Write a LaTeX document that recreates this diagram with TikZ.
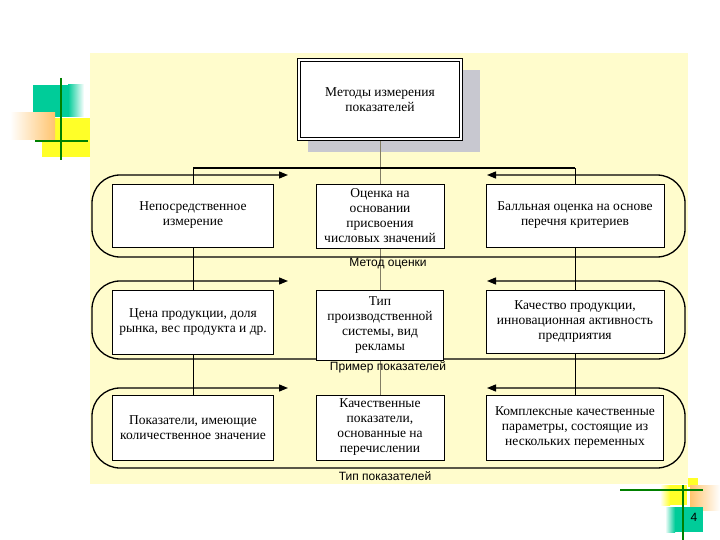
\documentclass[tikz,border=0pt]{standalone}
\usepackage{fontspec}
\setmainfont{Liberation Serif}
\setsansfont{Liberation Sans}
\usetikzlibrary{arrows.meta,positioning}
\pgfdeclarelayer{bg}
\pgfdeclarelayer{lines}
\pgfsetlayers{bg,lines,main}

\begin{document}
\begin{tikzpicture}[x=1pt,y=-1pt,
  box/.style={draw=black,line width=0.8pt,fill=white,align=center,
    inner sep=1pt,font=\fontsize{13.5}{15}\selectfont},
  titlebox/.style={box,double,double distance=2pt,line width=1pt},
  rowline/.style={line width=1.3pt,rounded corners=28pt,
    {Triangle[length=9pt,width=7pt]}-{Triangle[length=9pt,width=7pt]}},
  rowlabel/.style={font=\sffamily\fontsize{12}{14}\selectfont},
  stem/.style={draw=stemcol,line width=0.8pt},
  side/.style={draw=black,line width=0.8pt},
  bar/.style={draw=black,line width=1.5pt},
  deco line/.style={line width=2.6pt,draw=decogreen}]
\colorlet{panel}{yellow!20}
\definecolor{shadow}{RGB}{200,200,208}
\definecolor{decoteal}{RGB}{0,204,153}
\definecolor{decoyellow}{RGB}{255,255,40}
\definecolor{decoorange}{RGB}{255,196,110}
\definecolor{decogreen}{RGB}{0,128,0}
\definecolor{stemcol}{RGB}{130,125,100}
\useasboundingbox (0,0) rectangle (720,540);
\begin{pgfonlayer}{bg}
\fill[white] (0,0) rectangle (720,540);
\fill[panel] (90,53) rectangle (688,484);
% corner decorations
\fill[decoteal] (33,85) rectangle (68,117);
\shade[left color=decoteal,right color=white] (68,85) rectangle (84,117);
\fill[decoyellow] (42,118) rectangle (90,157);
\shade[left color=white,right color=decoorange] (10,113) rectangle (55,140);
\draw[deco line] (61,78) -- (61,160);
\draw[deco line] (35,141) -- (88,141);
\shade[left color=white,right color=decoyellow] (660,485) rectangle (670,505);
\fill[decoyellow] (670,485) rectangle (687,505);
\fill[decoyellow] (688,478) rectangle (698,487);
\shade[left color=decoorange,right color=white] (690,485) rectangle (720,510);
\shade[left color=white,right color=decoteal] (665,507) rectangle (675,532);
\fill[decoteal] (675,507) rectangle (703,532);
\draw[deco line] (620,490) -- (703,490);
\draw[deco line] (683,485) -- (683,540);
\fill[shadow] (308,70) rectangle (480,152);
\end{pgfonlayer}
\node[font=\sffamily\fontsize{12}{14}\selectfont] (page) at (694,517) {4};
% title
\node[titlebox,minimum width=162pt,minimum height=79pt] (title) at (380,99.5)
  {Методы измерения\\показателей};
% rows
\node[box,minimum width=161pt,minimum height=63pt] (l1) at (193,215.5)
  {Непосредственное\\измерение};
\node[box,minimum width=128pt,minimum height=64pt] (m1) at (380,216)
  {Оценка на\\основании\\присвоения\\числовых значений};
\node[box,minimum width=178pt,minimum height=63pt] (r1) at (575,215.5)
  {Балльная оценка на основе\\перечня критериев};
\node[box,minimum width=161pt,minimum height=64pt] (l2) at (193,322)
  {Цена продукции, доля\\рынка, вес продукта и др.};
\node[box,minimum width=127pt,minimum height=70pt] (m2) at (380,325)
  {Тип\\производственной\\системы, вид\\рекламы};
\node[box,minimum width=178pt,minimum height=63pt] (r2) at (575,321.5)
  {Качество продукции,\\инновационная активность\\предприятия};
\node[box,minimum width=161pt,minimum height=65pt] (l3) at (193,427.5)
  {Показатели, имеющие\\количественное значение};
\node[box,minimum width=128pt,minimum height=65pt] (m3) at (380,427.5)
  {Качественные\\показатели,\\основанные на\\перечислении};
\node[box,minimum width=177pt,minimum height=65pt] (r3) at (575,427.5)
  {Комплексные качественные\\параметры, состоящие из\\нескольких переменных};
\node[rowlabel] (lab1) at (388,264) {Метод оценки};
\node[rowlabel] (lab2) at (388,367) {Пример показателей};
\node[rowlabel] (lab3) at (385,476) {Тип показателей};
% connectors, under the boxes
\coordinate (barL) at (193,168);
\coordinate (barR) at (575,168);
\begin{pgfonlayer}{lines}
\draw[stem] (title.south) -- (m3.north);
\draw[bar] (barL) -- (barR);
\draw[side] (barL) -- (l3.north);
\draw[side] (barR) -- (r3.north);
\foreach \top/\bot in {175/257,281/359,388/468}
  \draw[rowline] (288,\top) -- (92,\top) -- (92,\bot) -- (685,\bot)
    -- (685,\top) -- (487,\top);
\end{pgfonlayer}
\end{tikzpicture}
\end{document}
